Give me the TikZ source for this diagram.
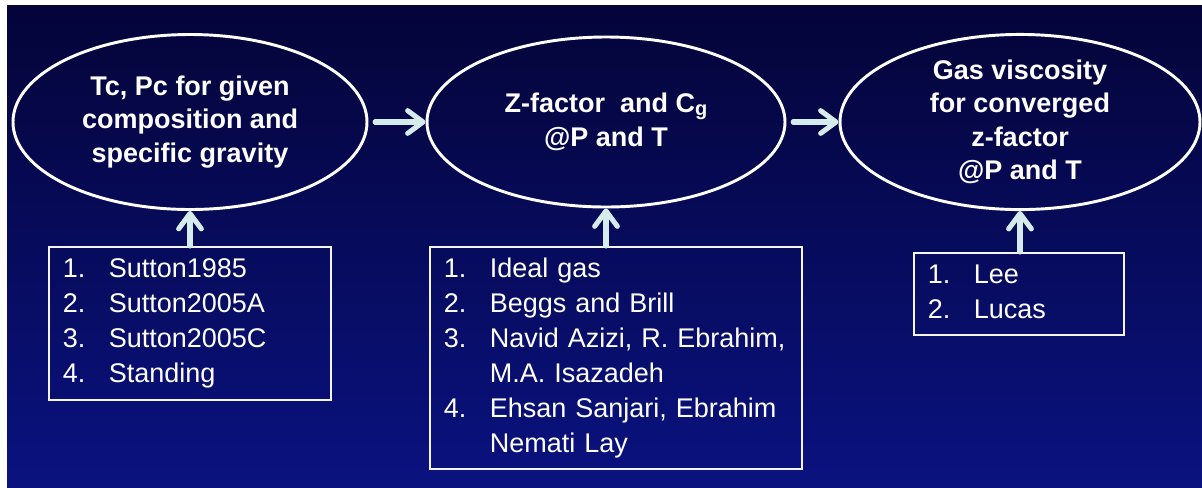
\documentclass[tikz,border=0pt]{standalone}
\usepackage{fontspec}
\setmainfont{Liberation Sans}
\usetikzlibrary{shapes.geometric,arrows.meta}
\definecolor{bgtop}{RGB}{4,4,56}
\definecolor{bgbot}{RGB}{10,18,128}
\definecolor{arrowcol}{RGB}{214,236,236}
\begin{document}
\begin{tikzpicture}[x=0.75pt,y=-0.75pt,
  stage/.style={ellipse, draw=white, line width=2.2pt, text=white, inner sep=0pt,
    align=center, font=\fontsize{20.25pt}{25pt}\selectfont\bfseries},
  methods/.style={draw=white!92!gray, line width=1.2pt, text=white, anchor=north west,
    inner xsep=10.5pt, inner ysep=0pt, align=left,
    font=\fontsize{20.25pt}{26.25pt}\selectfont},
  flow/.style={draw=arrowcol, line width=3.8pt, line cap=round,
    -{Straight Barb[round,length=11.5pt,width=17pt]}}]
\fill[white] (0,0) rectangle (1202,487);
\useasboundingbox (0,0) rectangle (1202,487);
\shade[top color=bgtop, bottom color=bgbot] (7,5) rectangle (1202,487);
% stages
\node[stage, minimum width=265.5pt, minimum height=131.25pt] (ell1) at (190,122)
  {Tc, Pc for given\\composition and\\specific gravity};
\node[stage, minimum width=268.5pt, minimum height=127.5pt] (ell2) at (606,122)
  {Z-factor~ and C\raisebox{-2pt}{\fontsize{15pt}{15pt}\selectfont g}\\@P and T};
\node[stage, minimum width=270pt, minimum height=127.5pt] (ell3) at (1020,122)
  {Gas viscosity\\for converged\\z-factor\\@P and T};
% method lists
\node[methods, text width=190.5pt, minimum height=114.75pt] (box1) at (48,246)
  {\begin{tabular}{@{}p{34.5pt}@{}l@{}}
  1. & Sutton1985\\
  2. & Sutton2005A\\
  3. & Sutton2005C\\
  4. & Standing
  \end{tabular}};
\node[methods, text width=258pt, minimum height=166.5pt] (box2) at (429,246)
  {\begin{tabular}{@{}p{34.5pt}@{}l@{}}
  1. & Ideal gas\\
  2. & Beggs and Brill\\
  3. & Navid Azizi, R. Ebrahim,\\
     & M.A. Isazadeh\\
  4. & Ehsan Sanjari, Ebrahim\\
     & Nemati Lay
  \end{tabular}};
\node[methods, text width=136.5pt, minimum height=61.5pt] (box3) at (913,252)
  {\begin{tabular}{@{}p{34.5pt}@{}l@{}}
  1. & Lee\\
  2. & Lucas
  \end{tabular}};
% arrows
\draw[flow, shorten <=5pt] (ell1.east) -- (ell2.west);
\draw[flow, shorten <=5pt] (ell2.east) -- (ell3.west);
\draw[flow] (box1.north -| ell1.south) -- (ell1.south);
\draw[flow] (box2.north -| ell2.south) -- (ell2.south);
\draw[flow] (box3.north -| ell3.south) -- (ell3.south);
\end{tikzpicture}
\end{document}
